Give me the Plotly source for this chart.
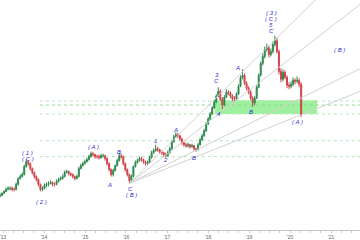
import pandas as pd
import plotly.graph_objects as go

# ---------------- data ----------------
close = [43, 45, 47, 49, 50, 50, 49, 49, 54, 60,
         62, 64, 72, 77, 75, 70, 66, 62, 59, 54,
         49, 50, 53, 54, 55, 56, 54, 54, 57, 59,
         60, 62, 66, 67, 65, 64, 62, 60, 62, 70,
         73, 75, 77, 79, 82, 85, 84, 82, 82, 81,
         83, 83, 80, 75, 69, 64, 68, 73, 78, 83,
         82, 75, 69, 64, 58, 62, 72, 76, 78, 80,
         79, 77, 75, 76, 81, 86, 88, 90, 89, 87,
         86, 84, 83, 86, 90, 97, 102, 104, 103, 100,
         96, 94, 93, 94, 92, 93, 90, 89, 94, 99,
         103, 108, 115, 120, 125, 131, 137, 143, 148, 140,
         134, 142, 147, 146, 143, 140, 140, 145, 153, 162,
         164, 156, 151, 147, 141, 136, 141, 152, 164, 176,
         183, 190, 192, 185, 188, 195, 199, 188, 168, 160,
         167, 162, 154, 153, 155, 159, 158, 159, 155, 124]

high = [45, 46, 48, 51, 52, 52, 52, 51, 56, 61,
        64, 66, 74, 79, 78, 76, 71, 67, 63, 60,
        55, 52, 55, 56, 57, 58, 57, 56, 59, 61,
        62, 64, 68, 69, 68, 66, 65, 63, 64, 72,
        75, 77, 79, 81, 84, 87, 87, 85, 84, 84,
        85, 85, 84, 81, 76, 70, 70, 74, 80, 86,
        85, 83, 76, 70, 65, 64, 73, 78, 80, 82,
        82, 80, 78, 78, 83, 88, 90, 94, 92, 90,
        88, 87, 86, 88, 92, 99, 104, 107, 106, 104,
        101, 97, 96, 96, 95, 95, 94, 91, 96, 101,
        105, 110, 117, 122, 127, 133, 139, 145, 152, 150,
        142, 144, 150, 149, 148, 145, 143, 147, 155, 164,
        170, 166, 158, 153, 149, 143, 143, 154, 166, 178,
        186, 193, 196, 194, 191, 198, 204, 202, 190, 171,
        170, 169, 164, 157, 158, 162, 161, 163, 161, 157]

low = [41, 42, 44, 46, 48, 48, 47, 47, 48, 53,
       59, 61, 63, 71, 73, 68, 64, 60, 57, 52,
       47, 47, 49, 51, 52, 54, 52, 52, 53, 56,
       58, 59, 61, 65, 63, 62, 60, 58, 59, 61,
       69, 72, 74, 76, 78, 81, 82, 80, 80, 79,
       80, 81, 78, 73, 67, 62, 62, 67, 72, 77,
       80, 73, 67, 62, 55, 56, 61, 71, 75, 77,
       77, 75, 73, 74, 75, 80, 85, 87, 87, 85,
       84, 82, 81, 82, 85, 89, 96, 101, 101, 98,
       94, 92, 91, 91, 90, 91, 88, 87, 88, 93,
       98, 102, 107, 114, 119, 124, 130, 136, 142, 138,
       130, 133, 141, 144, 141, 138, 137, 139, 144, 152,
       160, 154, 149, 145, 139, 132, 134, 140, 151, 163,
       174, 181, 188, 182, 183, 186, 193, 186, 165, 157,
       158, 160, 151, 150, 151, 153, 155, 156, 152, 122]

first_open = 42
open_ = [first_open] + close[:-1]
dates = pd.date_range("2012-12-05", periods=len(close), freq="18D")

# horizontal reference levels
level_prices = [138, 134, 125, 98, 82]
level_start = "2013-11-25"

# green zone
zone_dates = ["2018-03-03", "2020-08-29"]
zone_prices = [125, 139]

# fan lines from the C/(B) low
fan_origin_date = "2016-01-30"
fan_origin_price = 55
fan_end_date = "2021-09-20"
fan_end_prices = [285, 236, 171, 148]

# wave labels
label_text = ["( 1 )", "( C )", "( 2 )", "( A )", "A", "B", "C", "( B )",
              "1", "2", "A", "B", "3", "C", "4", "A", "B",
              "( 3 )", "( C )", "5", "C", "( B )", "( A )"]
label_date = ["2013-08-11", "2013-08-11", "2013-12-13", "2015-03-21", "2015-08-11",
              "2015-10-30", "2016-02-14", "2016-02-23", "2016-09-16", "2016-12-14",
              "2017-03-14", "2017-08-29", "2018-03-21", "2018-03-21", "2018-04-08",
              "2018-09-24", "2019-01-19", "2019-07-16", "2019-07-16", "2019-07-16",
              "2019-07-16", "2021-03-15", "2020-03-03"]
label_price = [86, 80, 36, 92, 53, 87, 49, 43, 98, 79, 109, 81, 164, 158, 125,
               171, 127, 227, 221, 215, 209, 190, 117]

x_range = ["2012-12-05", "2021-09-15"]
y_range = [8, 240]

# ---------------- figure ----------------
fig = go.Figure()

fig.add_shape(type="rect", xref="x", yref="y",
              x0=zone_dates[0], x1=zone_dates[1],
              y0=zone_prices[0], y1=zone_prices[1],
              fillcolor="#9ef09e", line=dict(width=0), layer="below")

for i, p in enumerate(level_prices):
    fig.add_shape(type="line", xref="x", yref="y",
                  x0=level_start, x1=x_range[1], y0=p, y1=p,
                  line=dict(color="#8fd88f" if i == 1 else "#b9e6b9",
                            width=1, dash="dot"),
                  layer="below")

for ep in fan_end_prices:
    fig.add_trace(go.Scatter(x=[fan_origin_date, fan_end_date],
                             y=[fan_origin_price, ep],
                             mode="lines", line=dict(color="#d2d2d2", width=1),
                             showlegend=False, hoverinfo="skip"))

fig.add_trace(go.Candlestick(
    x=dates, open=open_, high=high, low=low, close=close,
    increasing=dict(line=dict(color="#2f8a4f", width=1), fillcolor="#2f8a4f"),
    decreasing=dict(line=dict(color="#d2434b", width=1), fillcolor="#d2434b"),
    whiskerwidth=0, showlegend=False, hoverinfo="skip"))

for t, d, p in zip(label_text, label_date, label_price):
    fig.add_annotation(x=d, y=p, xref="x", yref="y", text="<i>" + t + "</i>",
                       showarrow=False,
                       font=dict(family="Liberation Sans, Arial", size=6, color="#2c2cd0"))

fig.update_layout(
    width=360, height=240,
    margin=dict(l=0, r=0, t=0, b=8),
    paper_bgcolor="white", plot_bgcolor="white",
    showlegend=False,
    xaxis=dict(range=x_range, type="date", rangeslider=dict(visible=False),
               showgrid=False, zeroline=False,
               showline=True, linecolor="#c8c8c8", linewidth=1,
               ticks="outside", ticklen=2, tickcolor="#c8c8c8",
               tick0="2013-01-01", dtick="M12", tickformat="'%y",
               ticklabeloverflow="allow",
               tickfont=dict(family="Liberation Sans, Arial", size=5, color="#666666"),
               minor=dict(ticks="outside", ticklen=2, dtick="M3",
                          tick0="2013-01-01", tickcolor="#c8c8c8", showgrid=False)),
    yaxis=dict(range=y_range, visible=False, showgrid=False, zeroline=False),
)

fig.write_html("out.html")
